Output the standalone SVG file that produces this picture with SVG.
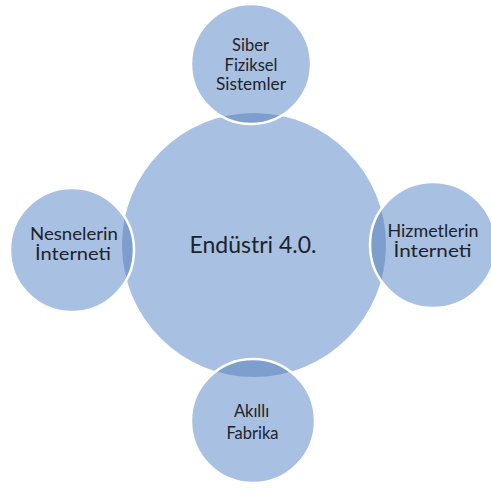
<svg xmlns="http://www.w3.org/2000/svg" width="491" height="494" viewBox="0 0 491 494">
<defs>
<style>
.c{fill:#a8c0e1}
.lens{fill:#7e9fce}
.edge{fill:none;stroke:#ffffff;stroke-width:2.5}
.t{font-family:Lato,"Open Sans","DejaVu Sans",sans-serif;font-size:16.5px;fill:#1e232b;text-anchor:middle}
.big{font-size:23px}
</style>
<clipPath id="bigclip"><circle cx="254" cy="245" r="132"/></clipPath>
</defs>
<g id="center">
<circle class="c" cx="254" cy="245" r="132"/>
<text class="t big" x="253" y="253">Endüstri 4.0.</text>
</g>
<g id="connectors"></g>
<g id="top">
<circle class="c" cx="251" cy="64" r="60"/>
<circle class="lens" cx="251" cy="64" r="60" clip-path="url(#bigclip)"/>
<circle class="edge" cx="251" cy="64" r="60"/>
<text class="t" x="250.5" y="51">Siber</text>
<text class="t" x="251" y="70.5">Fiziksel</text>
<text class="t" x="251" y="90" textLength="70" lengthAdjust="spacingAndGlyphs">Sistemler</text>
</g>
<g id="left">
<circle class="c" cx="72" cy="250" r="62"/>
<circle class="lens" cx="72" cy="250" r="62" clip-path="url(#bigclip)"/>
<circle class="edge" cx="72" cy="250" r="62"/>
<text class="t" x="74" y="240" textLength="88" lengthAdjust="spacingAndGlyphs">Nesnelerin</text>
<text class="t" x="73" y="260" textLength="76" lengthAdjust="spacingAndGlyphs">İnterneti</text>
</g>
<g id="right">
<circle class="c" cx="433" cy="245" r="63"/>
<circle class="lens" cx="433" cy="245" r="63" clip-path="url(#bigclip)"/>
<circle class="edge" cx="433" cy="245" r="63"/>
<text class="t" x="433" y="237" textLength="91" lengthAdjust="spacingAndGlyphs">Hizmetlerin</text>
<text class="t" x="432.5" y="257" textLength="78" lengthAdjust="spacingAndGlyphs">İnterneti</text>
</g>
<g id="bottom">
<circle class="c" cx="253" cy="421" r="62"/>
<circle class="lens" cx="253" cy="421" r="62" clip-path="url(#bigclip)"/>
<circle class="edge" cx="253" cy="421" r="62"/>
<text class="t" x="251.5" y="417">Akıllı</text>
<text class="t" x="252.5" y="438.5">Fabrika</text>
</g>
</svg>
